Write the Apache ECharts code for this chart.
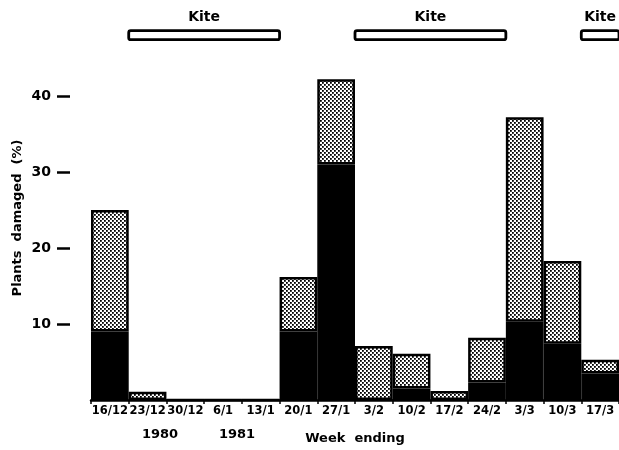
<!DOCTYPE html>
<html><head><meta charset="utf-8">
<script src="https://cdn.jsdelivr.net/npm/echarts@6/dist/echarts.min.js"></script>
<style>html,body{margin:0;padding:0;background:#fff}#c{width:619px;height:450px}</style>
</head><body><div id="c"></div>
<script>
const weeks = ['16/12','23/12','30/12','6/1','13/1','20/1','27/1','3/2','10/2','17/2','24/2','3/3','10/3','17/3'];
const blackPart = [9, 0, 0, 0, 0, 9, 31, 0, 1.5, 0, 2.3, 10.3, 7.4, 3.5];
const stipplePart = [16, 1.1, 0, 0, 0, 7.2, 11.2, 7.1, 4.6, 1.2, 5.9, 26.9, 10.9, 1.8];
const yTicks = [10, 20, 30, 40];
// Kite periods: [first week index, last week index]
const kitePeriods = [[1, 4], [7, 10], [13, 13]];
const kiteLevel = 48;

const pc = document.createElement('canvas');
pc.width = 4; pc.height = 4;
const g = pc.getContext('2d');
g.fillStyle = '#fff'; g.fillRect(0,0,4,4);
g.fillStyle = '#000';
g.fillRect(0,0,1.8,1.8);
g.fillRect(2,2,1.8,1.8);

const chart = echarts.init(document.getElementById('c'), null, {renderer:'canvas'});
const font = 'DejaVu Sans';
chart.setOption({
  animation: false,
  grid: {left: 91, right: -4, top: 0, bottom: 50},
  xAxis: {
    type: 'category', data: weeks,
    axisLine: {lineStyle: {color: '#000', width: 2.5}},
    axisTick: {show: true, length: 4, lineStyle: {color:'#000', width: 1.5}},
    axisLabel: {color: '#000', fontFamily: font, fontWeight: 'bold', fontSize: 11.5, margin: 5, interval: 0},
    name: 'Week  ending', nameLocation: 'middle', nameGap: 32,
    nameTextStyle: {color:'#000', fontFamily: font, fontWeight:'bold', fontSize: 13}
  },
  yAxis: {
    type: 'value', min: 0, max: 400/7.6, interval: 10, offset: 21,
    splitLine: {show: false},
    axisLine: {show: false},
    axisTick: {show: true, length: 13, customValues: yTicks, lineStyle: {color:'#000', width: 2.5}},
    axisLabel: {customValues: yTicks, color:'#000', fontFamily: font, fontWeight:'bold', fontSize: 14, margin: 19}
  },
  graphic: [
    {type:'text', x: 18, y: 218, rotation: Math.PI/2, style: {text: 'Plants  damaged  (%)', fill:'#000', font: 'bold 13px "DejaVu Sans"', align:'center', verticalAlign:'middle'}},
    {type:'text', x: 160, y: 435, style: {text: '1980', fill:'#000', font: 'bold 13px "DejaVu Sans"', align:'center', verticalAlign:'middle'}},
    {type:'text', x: 237, y: 435, style: {text: '1981', fill:'#000', font: 'bold 13px "DejaVu Sans"', align:'center', verticalAlign:'middle'}}
  ],
  series: [
    {type:'bar', stack:'d', data: blackPart, barWidth: '100%', barCategoryGap: 0,
     itemStyle: {color:'#000', borderColor:'#000', borderWidth: 1.5}},
    {type:'bar', stack:'d', data: stipplePart, barWidth: '100%',
     itemStyle: {color: {image: pc, repeat: 'repeat'}, borderColor:'#000', borderWidth: 2.5}},
    {type:'custom', data: kitePeriods, clip: false,
     renderItem: function(params, api){
       const s = api.value(0), e = api.value(1);
       const p0 = api.coord([s, kiteLevel]);
       const p1 = api.coord([e, kiteLevel]);
       const bw = api.size([1, 0])[0];
       const x0 = p0[0] - bw/2, x1 = p1[0] + bw/2;
       return {type:'group', children: [
         {type:'rect', shape:{x: x0, y: p0[1]-4.5, width: x1-x0, height: 9, r: 2},
          style:{fill:'#fff', stroke:'#000', lineWidth: 2.8}},
         {type:'text', style:{text:'Kite', x:(x0+x1)/2, y: p0[1]-18, align:'center', verticalAlign:'middle',
           fill:'#000', font:'bold 14px "DejaVu Sans"'}}
       ]};
     }}
  ]
});
</script></body></html>
